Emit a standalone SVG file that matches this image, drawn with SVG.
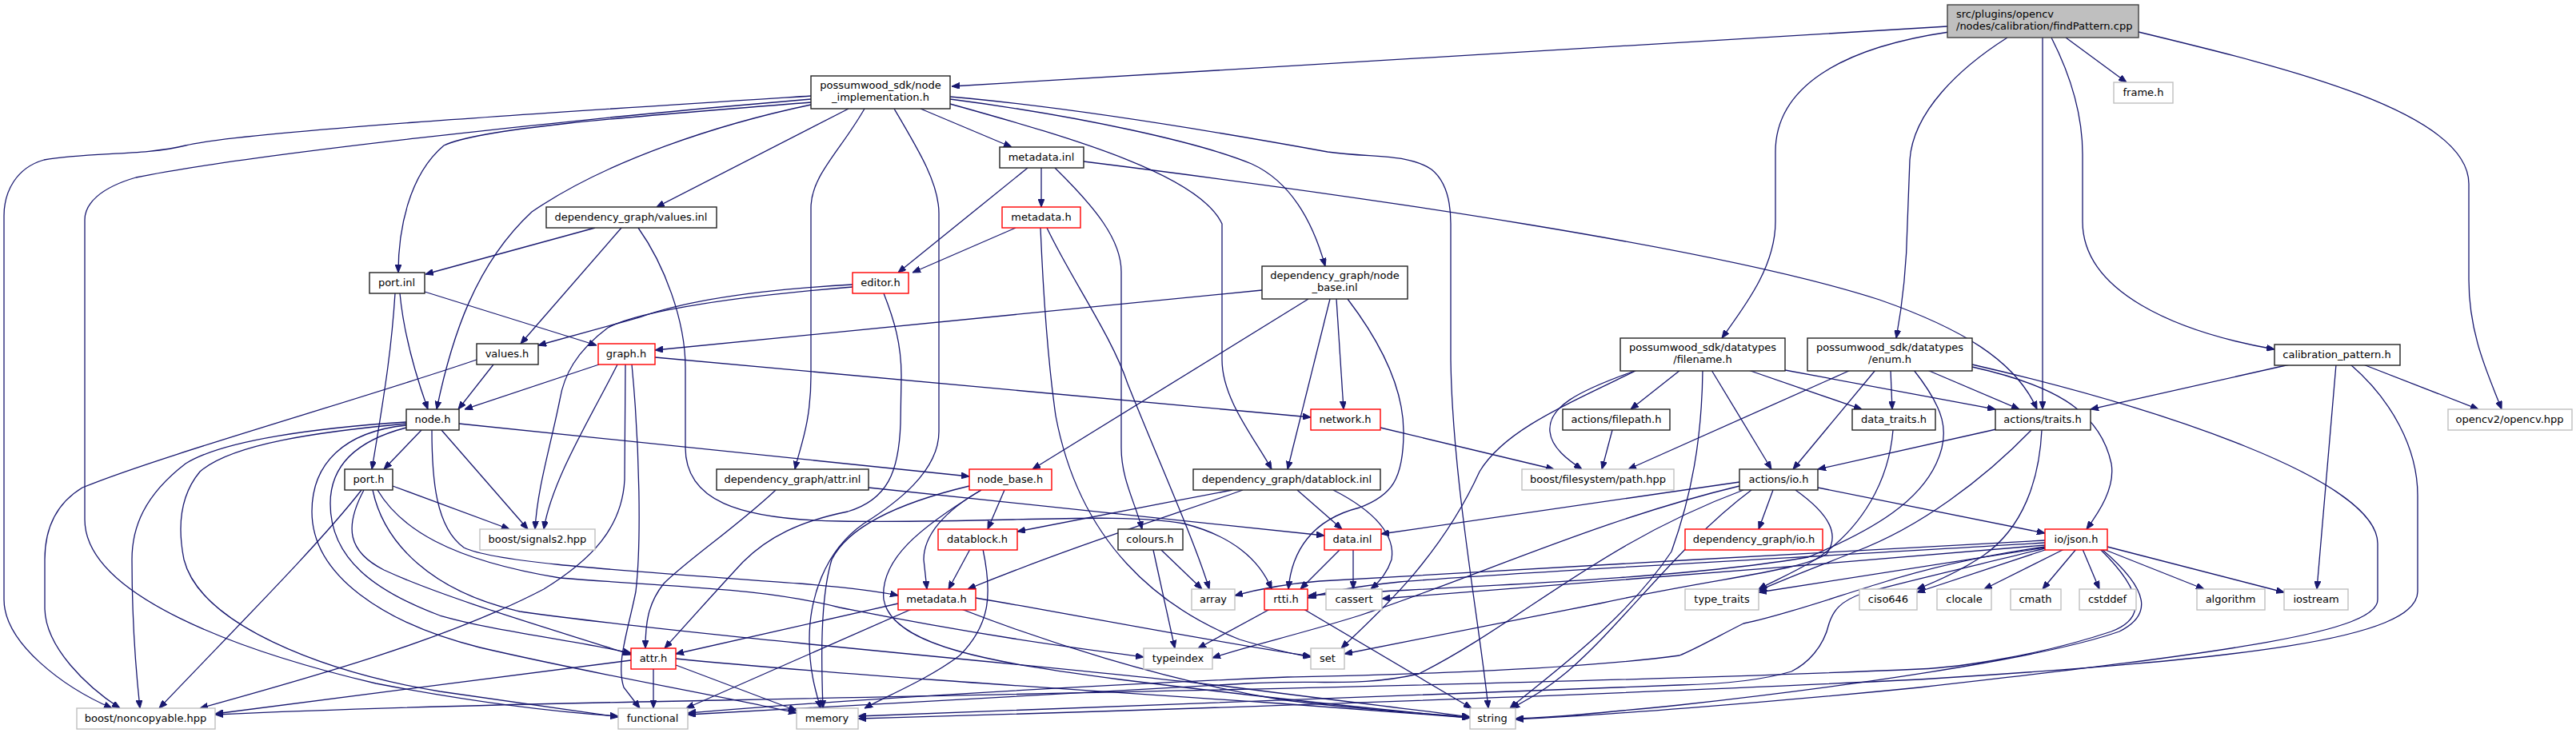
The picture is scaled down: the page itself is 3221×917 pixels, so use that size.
<svg xmlns="http://www.w3.org/2000/svg" width="3221" height="917" viewBox="0 0 3221 917">
<style>
.n rect{fill:#fff;stroke:#222;stroke-width:1.4}
.r rect{fill:#fff;stroke:#ff0000;stroke-width:1.4}
.g rect{fill:#fff;stroke:#bfbfbf;stroke-width:1.4}
.root rect{fill:#bfbfbf;stroke:#404040;stroke-width:1.4}
text{font-family:"DejaVu Sans",Verdana,sans-serif;font-size:13px;fill:#000;text-anchor:middle}
.root text{text-anchor:start}
#edges path{fill:none;stroke:#191970;stroke-width:1.3;marker-end:url(#a)}
</style>
<defs>
<marker id="a" viewBox="0 0 10 8" refX="10" refY="4" markerWidth="10" markerHeight="8" markerUnits="userSpaceOnUse" orient="auto"><path d="M0,0 L10,4 L0,8 z" fill="#191970" stroke="#191970" stroke-width="1"/></marker>
</defs>
<rect width="3221" height="917" fill="#fff"/>
<g id="edges">
<path d="M2435,33 L1190,108"/>
<path d="M2437,40 C2300,60 2220,110 2220,190 L2220,277 C2220,335 2180,385 2153,423"/>
<path d="M2510,47 C2450,85 2392,140 2388,200 L2385,280 C2384,335 2378,385 2371,423"/>
<path d="M2554,47 L2554,512"/>
<path d="M2583,47 L2659,103"/>
<path d="M2565,47 C2592,100 2604,150 2604,193 L2604,277 C2604,365 2720,415 2844,437"/>
<path d="M2674,40 C2860,85 3087,140 3087,230 L3087,350 C3087,420 3112,470 3128,512"/>
<path d="M1014,120 C700,140 300,165 232,182 C180,195 110,190 55,200 C20,210 5,240 5,270 L5,750 C5,805 80,860 140,886"/>
<path d="M1014,124 C700,150 300,195 170,222 C125,235 106,255 106,275 L106,650 C106,745 300,815 470,855 C600,880 700,891 773,896"/>
<path d="M1014,128 C800,145 600,160 555,182 C510,220 498,290 498,341"/>
<path d="M1014,131 C900,155 760,200 665,265 C595,330 565,420 546,512"/>
<path d="M1061,136 L821,259"/>
<path d="M1081,136 C1050,190 1014,220 1014,260 L1014,470 C1014,530 1000,560 994,587"/>
<path d="M1118,136 C1150,190 1174,230 1174,267 L1174,540 C1174,590 1120,630 1080,655 C1030,690 1012,750 1012,800 C1012,840 1020,865 1026,886"/>
<path d="M1151,136 L1265,184"/>
<path d="M1188,121 C1350,135 1550,170 1660,190 C1720,198 1760,192 1790,212 C1810,228 1814,255 1814,280 L1814,450 C1816,600 1850,780 1861,886"/>
<path d="M1188,124 C1350,145 1500,178 1565,205 C1620,230 1645,290 1657,333"/>
<path d="M1188,130 C1350,175 1500,220 1528,280 L1528,450 C1528,500 1570,550 1590,587"/>
<path d="M1285,210 L1123,341"/>
<path d="M1302,210 L1302,259"/>
<path d="M1319,210 C1370,260 1402,300 1402,340 L1402,560 C1402,600 1420,630 1428,662"/>
<path d="M1355,202 C1700,245 2150,310 2350,375 C2450,410 2520,450 2547,512"/>
<path d="M1270,285 L1141,341"/>
<path d="M1301,285 C1305,380 1310,450 1320,520 C1350,680 1450,760 1550,800 C1590,812 1615,818 1639,822"/>
<path d="M1309,285 C1340,350 1390,420 1410,480 C1450,580 1495,680 1512,737"/>
<path d="M744,285 L532,343"/>
<path d="M777,285 L651,430"/>
<path d="M798,285 C830,330 857,400 857,460 L857,560 C857,625 920,650 1050,652 C1250,655 1400,640 1480,655 C1540,670 1575,700 1590,737"/>
<path d="M500,367 C505,420 520,470 535,512"/>
<path d="M494,367 C490,430 483,480 465,587"/>
<path d="M531,365 L746,432"/>
<path d="M1066,356 C960,362 860,375 800,397 L673,432"/>
<path d="M1066,359 C930,370 800,388 760,410 C720,440 705,470 700,500 C688,560 672,610 669,662"/>
<path d="M1105,367 C1118,400 1127,430 1127,470 L1126,530 C1124,590 1110,625 1060,640 C1000,652 960,672 929,703 C890,745 850,790 831,811"/>
<path d="M617,456 L573,512"/>
<path d="M596,450 C450,500 200,570 103,610 C70,630 56,660 56,700 L56,760 C56,810 110,860 150,886"/>
<path d="M749,456 L581,512"/>
<path d="M819,447 L1639,522"/>
<path d="M772,456 C740,520 690,600 680,662"/>
<path d="M782,456 L781,600 C778,660 740,700 680,737 C560,800 380,850 250,886"/>
<path d="M790,456 C800,560 802,680 795,740 C785,790 770,830 780,860 L800,886"/>
<path d="M508,528 C400,535 280,550 232,580 C180,620 165,660 165,700 C165,780 170,840 175,886"/>
<path d="M508,530 C400,540 290,555 250,590 C225,620 222,660 230,700 C250,780 400,840 550,865 C650,880 720,890 773,897"/>
<path d="M508,532 C430,540 390,580 390,640 C390,720 480,780 600,810 C750,845 900,870 996,892"/>
<path d="M508,535 C450,550 413,580 413,630 C413,700 470,740 550,770 C620,790 700,798 789,817"/>
<path d="M527,538 L480,587"/>
<path d="M552,538 L660,662"/>
<path d="M540,538 C540,600 545,660 580,685 C620,705 800,715 1000,730 C1060,735 1100,740 1123,745"/>
<path d="M574,530 L1212,596"/>
<path d="M452,613 C400,680 300,780 199,886"/>
<path d="M455,613 C430,660 435,690 480,713 C560,750 700,790 789,819"/>
<path d="M466,613 C480,680 540,740 650,765 C900,800 1400,840 1560,862 C1700,880 1790,890 1838,897"/>
<path d="M472,613 C500,660 560,700 700,723 C850,735 950,735 1050,760 C1250,800 1380,815 1430,822"/>
<path d="M491,608 L637,662"/>
<path d="M970,613 C920,660 860,700 830,730 C810,755 807,780 807,811"/>
<path d="M1086,610 L1656,670"/>
<path d="M1212,608 C1120,630 1060,660 1040,700 C1025,750 1027,830 1029,886"/>
<path d="M1227,613 C1180,640 1155,670 1155,700 L1159,737"/>
<path d="M1256,613 L1235,662"/>
<path d="M1227,613 C1150,660 1100,700 1105,750 C1115,810 1250,830 1400,850 C1600,875 1750,890 1838,898"/>
<path d="M1541,613 C1450,630 1350,650 1272,665"/>
<path d="M1554,613 C1480,640 1350,680 1210,737"/>
<path d="M1622,613 L1678,662"/>
<path d="M1667,613 C1720,640 1745,670 1740,700 C1735,715 1725,728 1714,737"/>
<path d="M1578,363 L819,438"/>
<path d="M1636,374 L1291,587"/>
<path d="M1671,374 L1680,512"/>
<path d="M1663,374 L1610,587"/>
<path d="M1685,374 C1720,420 1755,480 1755,540 C1755,600 1740,620 1700,635 C1640,650 1615,690 1611,737"/>
<path d="M1726,535 L1943,587"/>
<path d="M2047,463 C1970,490 1935,510 1938,540 C1940,560 1960,575 1978,587"/>
<path d="M2101,463 L2039,512"/>
<path d="M2129,463 C2128,550 2115,620 2090,690 C2030,780 1930,850 1888,886"/>
<path d="M2140,463 L2215,587"/>
<path d="M2186,463 L2328,512"/>
<path d="M2232,463 L2495,512"/>
<path d="M2045,464 C1950,510 1880,540 1850,590 C1800,700 1720,770 1677,811"/>
<path d="M2016,538 L2003,587"/>
<path d="M2314,463 L2036,587"/>
<path d="M2345,463 L2242,587"/>
<path d="M2364,463 L2366,512"/>
<path d="M2393,463 C2430,510 2440,540 2421,580 C2400,625 2350,660 2261,697 C2100,725 1800,735 1636,745"/>
<path d="M2410,463 L2525,512"/>
<path d="M2466,459 C2560,480 2625,510 2640,580 C2645,610 2625,640 2609,662"/>
<path d="M2466,456 C2700,510 2973,600 2973,680 L2973,750 C2973,790 2800,815 2400,860 C2200,880 2000,895 1895,900"/>
<path d="M2367,538 C2362,600 2330,660 2270,700 C2240,718 2215,728 2199,737"/>
<path d="M2496,537 L2273,587"/>
<path d="M2540,538 C2480,600 2400,660 2320,690 C2270,710 2230,725 2199,739"/>
<path d="M2553,538 C2550,600 2530,660 2480,695 C2450,715 2420,728 2397,737"/>
<path d="M2863,456 L2614,512"/>
<path d="M2921,456 L2897,737"/>
<path d="M2955,456 L3099,512"/>
<path d="M2939,456 C2990,500 3023,560 3023,620 L3023,740 C3023,800 2800,825 2400,850 C2000,870 1400,890 1073,899"/>
<path d="M2175,603 L1727,668"/>
<path d="M2217,613 L2199,662"/>
<path d="M2273,610 L2557,667"/>
<path d="M2175,608 C2000,650 1850,720 1700,770 C1620,795 1560,808 1516,823"/>
<path d="M2180,613 C2000,680 1900,780 1774,843 C1700,860 1650,850 1560,855 C1300,870 1000,885 860,894"/>
<path d="M2190,613 C2100,680 2030,780 1960,840 C1930,865 1910,875 1890,886"/>
<path d="M2245,613 C2290,645 2300,670 2284,693 C2250,715 2150,722 2000,755 C1850,785 1750,805 1681,818"/>
<path d="M2557,676 C2300,690 1900,712 1650,727 C1600,731 1570,738 1544,745"/>
<path d="M2557,679 C2300,695 1900,715 1750,728 C1700,733 1660,740 1635,748"/>
<path d="M2557,682 C2300,705 1900,735 1728,749"/>
<path d="M2557,685 L2199,741"/>
<path d="M2560,687 L2397,741"/>
<path d="M2581,687 L2481,737"/>
<path d="M2596,687 L2554,737"/>
<path d="M2604,687 L2625,737"/>
<path d="M2630,687 L2756,737"/>
<path d="M2635,684 L2856,741"/>
<path d="M2628,687 C2690,740 2690,770 2650,790 C2550,825 2300,860 2100,882 C2000,892 1950,897 1895,899"/>
<path d="M2626,687 C2685,745 2680,775 2640,790 C2550,820 2450,835 2400,837 C2000,855 1200,870 800,878 C600,882 400,888 269,894"/>
<path d="M2557,686 C2480,705 2380,728 2330,742 C2300,752 2292,765 2287,780 C2280,810 2260,830 2240,840 C2200,852 2150,856 2100,857 C1700,870 1300,885 1073,896"/>
<path d="M2557,684 C2480,695 2413,710 2350,730 C2300,745 2230,770 2180,780 C2150,795 2120,812 2100,820 C1950,840 1700,845 1610,847 C1300,860 1000,880 860,892"/>
<path d="M817,837 L817,886"/>
<path d="M845,832 L996,889"/>
<path d="M845,824 C1000,840 1300,860 1600,880 C1700,888 1800,895 1838,898"/>
<path d="M789,826 L269,893"/>
<path d="M1213,687 L1186,737"/>
<path d="M1229,687 C1240,740 1240,780 1200,820 C1160,850 1110,870 1081,886"/>
<path d="M1123,755 L845,818"/>
<path d="M1140,762 L858,886"/>
<path d="M1220,748 C1350,770 1500,800 1639,821"/>
<path d="M1202,762 C1300,800 1450,850 1600,875 C1700,888 1800,894 1838,897"/>
<path d="M1452,688 L1503,737"/>
<path d="M1442,688 L1469,811"/>
<path d="M1676,687 L1626,737"/>
<path d="M1692,687 L1692,737"/>
<path d="M1588,762 L1498,811"/>
<path d="M1630,762 L1840,886"/>
</g>
<g id="findPattern" class="root"><rect x="2435" y="6" width="239" height="41"/><text x="2446" y="22">src/plugins/opencv</text><text x="2446" y="37">/nodes/calibration/findPattern.cpp</text></g>
<g id="node_impl" class="n"><rect x="1014" y="95" width="174" height="41"/><text x="1101" y="111">possumwood_sdk/node</text><text x="1101" y="126">_implementation.h</text></g>
<g id="frame_h" class="g"><rect x="2643" y="103" width="74" height="26"/><text x="2680" y="120">frame.h</text></g>
<g id="metadata_inl" class="n"><rect x="1250" y="184" width="105" height="26"/><text x="1302" y="201">metadata.inl</text></g>
<g id="values_inl" class="n"><rect x="683" y="259" width="213" height="26"/><text x="789" y="276">dependency_graph/values.inl</text></g>
<g id="metadata_h_sdk" class="r"><rect x="1253" y="259" width="98" height="26"/><text x="1302" y="276">metadata.h</text></g>
<g id="port_inl" class="n"><rect x="462" y="341" width="69" height="26"/><text x="496" y="358">port.inl</text></g>
<g id="editor_h" class="r"><rect x="1066" y="341" width="70" height="26"/><text x="1101" y="358">editor.h</text></g>
<g id="node_base_inl" class="n"><rect x="1578" y="333" width="182" height="41"/><text x="1669" y="349">dependency_graph/node</text><text x="1669" y="364">_base.inl</text></g>
<g id="filename_h" class="n"><rect x="2026" y="423" width="206" height="41"/><text x="2129" y="439">possumwood_sdk/datatypes</text><text x="2129" y="454">/filename.h</text></g>
<g id="enum_h" class="n"><rect x="2260" y="423" width="206" height="41"/><text x="2363" y="439">possumwood_sdk/datatypes</text><text x="2363" y="454">/enum.h</text></g>
<g id="values_h" class="n"><rect x="596" y="430" width="77" height="26"/><text x="634" y="447">values.h</text></g>
<g id="graph_h" class="r"><rect x="748" y="430" width="71" height="26"/><text x="783" y="447">graph.h</text></g>
<g id="calibration_pattern_h" class="n"><rect x="2844" y="431" width="157" height="26"/><text x="2922" y="448">calibration_pattern.h</text></g>
<g id="node_h" class="n"><rect x="508" y="512" width="66" height="26"/><text x="541" y="529">node.h</text></g>
<g id="network_h" class="r"><rect x="1639" y="512" width="87" height="26"/><text x="1682" y="529">network.h</text></g>
<g id="filepath_h" class="n"><rect x="1954" y="512" width="134" height="26"/><text x="2021" y="529">actions/filepath.h</text></g>
<g id="data_traits_h" class="n"><rect x="2316" y="512" width="104" height="26"/><text x="2368" y="529">data_traits.h</text></g>
<g id="traits_h" class="n"><rect x="2495" y="512" width="119" height="26"/><text x="2554" y="529">actions/traits.h</text></g>
<g id="opencv_hpp" class="g"><rect x="3061" y="512" width="155" height="26"/><text x="3138" y="529">opencv2/opencv.hpp</text></g>
<g id="port_h" class="n"><rect x="431" y="587" width="60" height="26"/><text x="461" y="604">port.h</text></g>
<g id="attr_inl" class="n"><rect x="896" y="587" width="190" height="26"/><text x="991" y="604">dependency_graph/attr.inl</text></g>
<g id="node_base_h" class="r"><rect x="1212" y="587" width="103" height="26"/><text x="1263" y="604">node_base.h</text></g>
<g id="datablock_inl" class="n"><rect x="1492" y="587" width="234" height="26"/><text x="1609" y="604">dependency_graph/datablock.inl</text></g>
<g id="path_hpp" class="g"><rect x="1903" y="587" width="190" height="26"/><text x="1998" y="604">boost/filesystem/path.hpp</text></g>
<g id="io_h" class="n"><rect x="2175" y="587" width="98" height="26"/><text x="2224" y="604">actions/io.h</text></g>
<g id="signals2_hpp" class="g"><rect x="600" y="662" width="144" height="26"/><text x="672" y="679">boost/signals2.hpp</text></g>
<g id="datablock_h" class="r"><rect x="1173" y="662" width="99" height="26"/><text x="1222" y="679">datablock.h</text></g>
<g id="colours_h" class="n"><rect x="1398" y="662" width="81" height="26"/><text x="1438" y="679">colours.h</text></g>
<g id="data_inl" class="r"><rect x="1656" y="662" width="71" height="26"/><text x="1691" y="679">data.inl</text></g>
<g id="dg_io_h" class="r"><rect x="2107" y="662" width="172" height="26"/><text x="2193" y="679">dependency_graph/io.h</text></g>
<g id="json_h" class="r"><rect x="2557" y="662" width="78" height="26"/><text x="2596" y="679">io/json.h</text></g>
<g id="metadata_h_dg" class="r"><rect x="1123" y="737" width="97" height="26"/><text x="1171" y="754">metadata.h</text></g>
<g id="array" class="g"><rect x="1490" y="737" width="54" height="26"/><text x="1517" y="754">array</text></g>
<g id="rtti_h" class="r"><rect x="1581" y="737" width="54" height="26"/><text x="1608" y="754">rtti.h</text></g>
<g id="cassert" class="g"><rect x="1658" y="737" width="70" height="26"/><text x="1693" y="754">cassert</text></g>
<g id="type_traits" class="g"><rect x="2107" y="737" width="92" height="26"/><text x="2153" y="754">type_traits</text></g>
<g id="ciso646" class="g"><rect x="2325" y="737" width="72" height="26"/><text x="2361" y="754">ciso646</text></g>
<g id="clocale" class="g"><rect x="2422" y="737" width="68" height="26"/><text x="2456" y="754">clocale</text></g>
<g id="cmath" class="g"><rect x="2514" y="737" width="63" height="26"/><text x="2545" y="754">cmath</text></g>
<g id="cstddef" class="g"><rect x="2600" y="737" width="71" height="26"/><text x="2635" y="754">cstddef</text></g>
<g id="algorithm" class="g"><rect x="2747" y="737" width="85" height="26"/><text x="2789" y="754">algorithm</text></g>
<g id="iostream" class="g"><rect x="2856" y="737" width="80" height="26"/><text x="2896" y="754">iostream</text></g>
<g id="attr_h" class="r"><rect x="789" y="811" width="56" height="26"/><text x="817" y="828">attr.h</text></g>
<g id="typeindex" class="g"><rect x="1430" y="811" width="86" height="26"/><text x="1473" y="828">typeindex</text></g>
<g id="set" class="g"><rect x="1639" y="811" width="42" height="26"/><text x="1660" y="828">set</text></g>
<g id="noncopyable_hpp" class="g"><rect x="96" y="886" width="173" height="26"/><text x="182" y="903">boost/noncopyable.hpp</text></g>
<g id="functional" class="g"><rect x="773" y="886" width="87" height="26"/><text x="816" y="903">functional</text></g>
<g id="memory" class="g"><rect x="996" y="886" width="77" height="26"/><text x="1034" y="903">memory</text></g>
<g id="string" class="g"><rect x="1838" y="886" width="57" height="26"/><text x="1866" y="903">string</text></g>
</svg>
